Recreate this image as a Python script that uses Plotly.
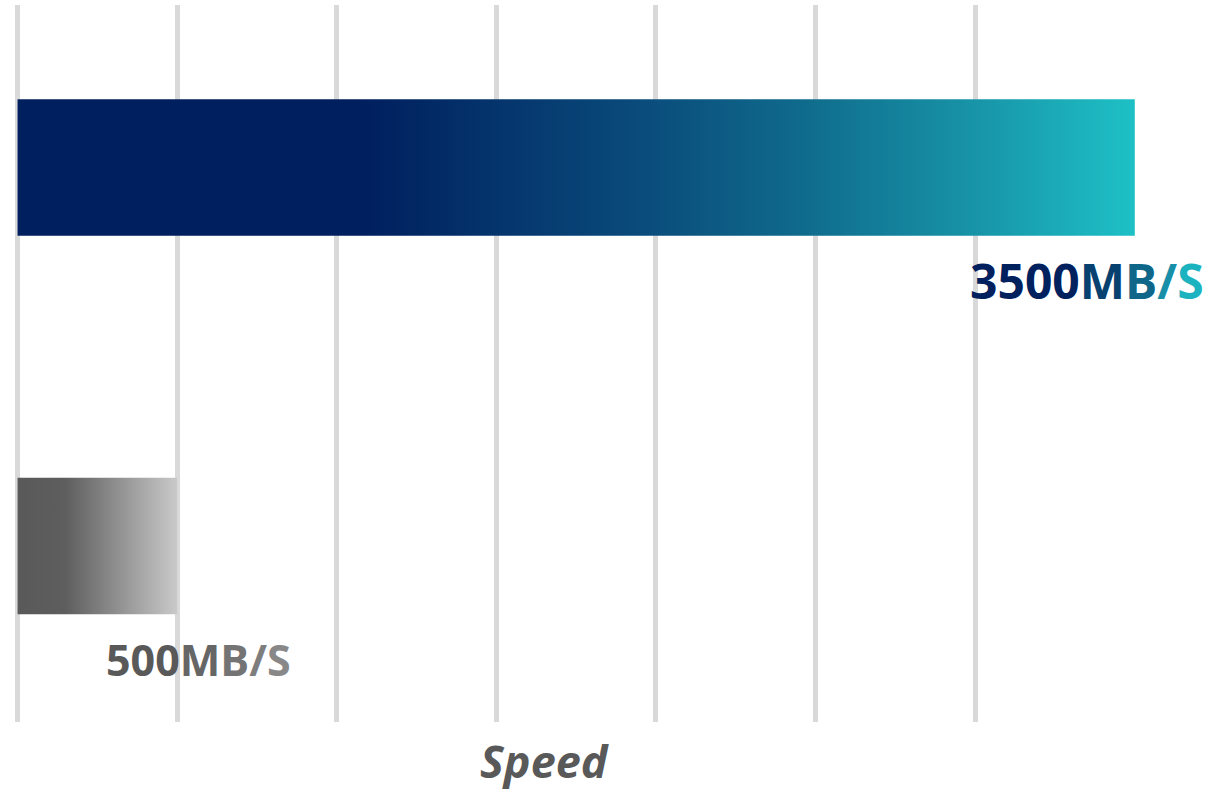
import plotly.graph_objects as go

# ---- data ----
categories = ["NVMe SSD", "SATA SSD"]
speeds = [3500, 500]
labels = ["3500MB/S", "500MB/S"]
tick_values = [0, 500, 1000, 1500, 2000, 2500, 3000]
axis_title = "Speed"

# ---- styles ----
bar_scales = [
    [[0, "#001F5E"], [0.31, "#001F5E"], [0.566, "#0A4D7C"], [0.70, "#0F6A8C"],
     [0.843, "#1790A5"], [1, "#1EC0C6"]],
    [[0, "#595959"], [0.30, "#5E5E5E"], [1, "#C9C9C9"]],
]
label_char_colors = [
    ["#00205E", "#00205E", "#00205E", "#00205E", "#07416F", "#0E6788", "#178FA8", "#1CB3C0"],
    ["#595959", "#595959", "#595959", "#666666", "#747474", "#7E7E7E", "#888888"],
]
label_sizes = [48, 43]
label_xshift = [-48, 21]
bar_height = 0.3606

fig = go.Figure()
for i, (cat, v) in enumerate(zip(categories, speeds)):
    y0, y1 = i - bar_height / 2, i + bar_height / 2
    fig.add_trace(go.Scatter(
        x=[0, v, v, 0, 0], y=[y0, y0, y1, y1, y0],
        mode="lines", fill="toself", line=dict(width=0),
        fillgradient=dict(type="horizontal", colorscale=bar_scales[i]),
        name=cat, hoverinfo="skip", showlegend=False,
    ))
    txt = "".join(f'<span style="color:{c}">{ch}</span>'
                  for ch, c in zip(labels[i], label_char_colors[i]))
    fig.add_annotation(
        x=v, y=y1, xref="x", yref="y", text=f"<b>{txt}</b>", showarrow=False,
        xanchor="center", yanchor="middle", xshift=label_xshift[i], yshift=-45,
        font=dict(family="Open Sans", size=label_sizes[i], color=label_char_colors[i][0]),
    )

fig.add_annotation(
    x=0.4423, y=0, xref="paper", yref="paper", text=f"<b><i>{axis_title}</i></b>",
    showarrow=False, xanchor="center", yanchor="middle", yshift=-38,
    font=dict(family="Open Sans", size=45, color="#595959"),
)

fig.update_xaxes(
    range=[-8, 3745], tickvals=tick_values, showticklabels=False,
    showgrid=True, gridcolor="#D9D9D9", gridwidth=4.5,
    zeroline=True, zerolinecolor="#D9D9D9", zerolinewidth=4.5,
    showline=False, fixedrange=True,
)
fig.update_yaxes(
    range=[1.465, -0.4293], visible=False, showgrid=False, zeroline=False,
)
fig.update_layout(
    width=1213, height=793,
    margin=dict(l=14.5, r=0, t=5, b=71),
    plot_bgcolor="white", paper_bgcolor="white",
    showlegend=False,
)
fig.write_html(
    "out.html", config={"displayModeBar": False},
    post_script="document.body.style.margin='0';document.body.style.overflow='hidden';",
)
